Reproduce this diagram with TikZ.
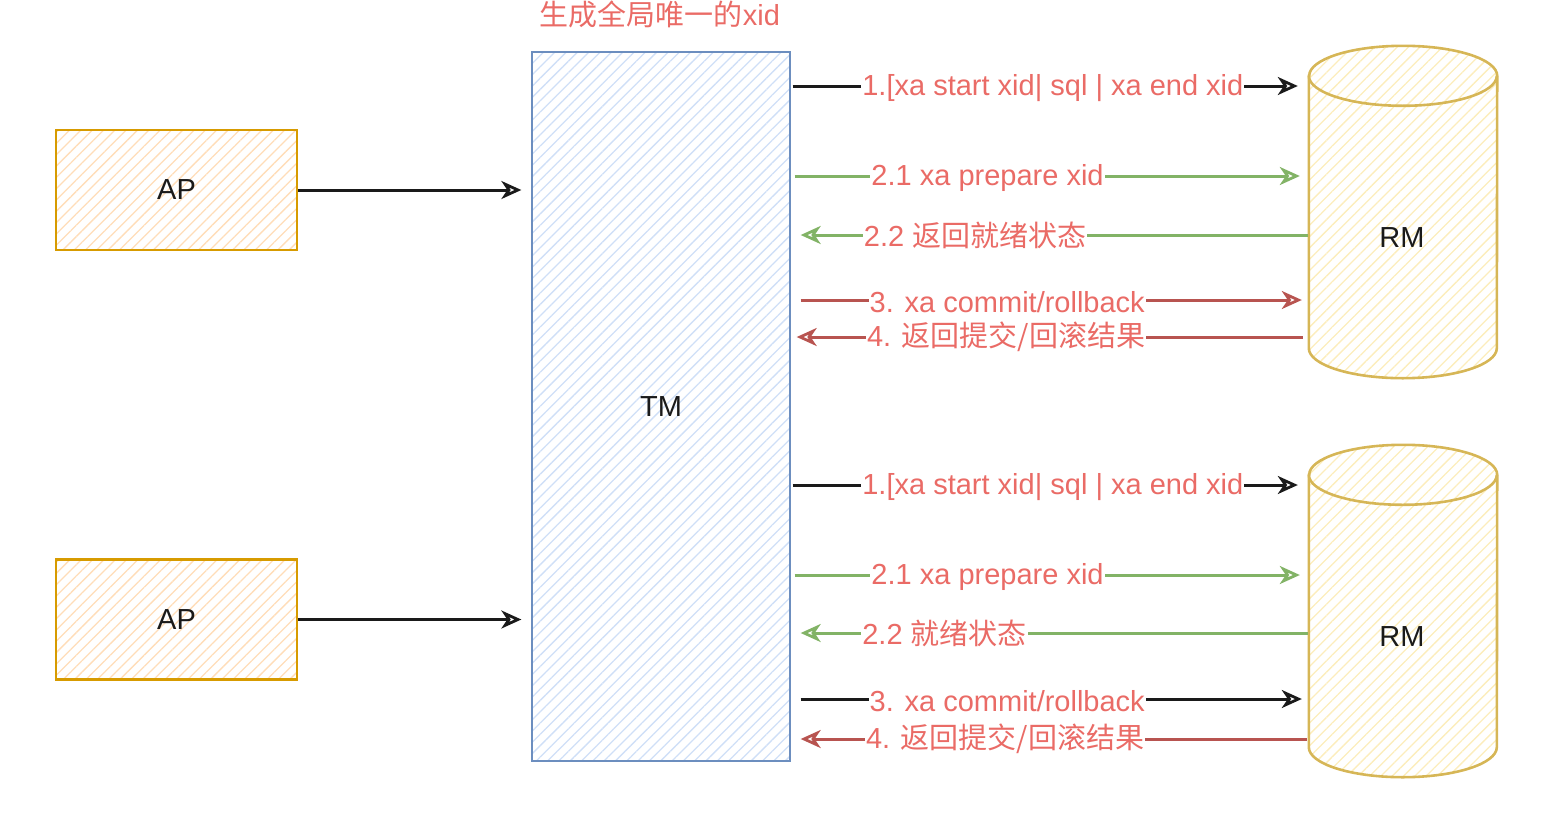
\documentclass[tikz,border=0pt]{standalone}
\usepackage{fontspec}
\setmainfont{Liberation Sans}
\newfontfamily\cjk{Noto Sans CJK SC}
\usetikzlibrary{arrows.meta,patterns.meta,calc}
\definecolor{txtred}{HTML}{EA6B66}
\definecolor{lblack}{HTML}{1A1A1A}
\definecolor{lgreen}{HTML}{82B366}
\definecolor{lred}{HTML}{B85450}
\definecolor{apstroke}{HTML}{D79B00}
\definecolor{aphatch}{HTML}{FFDDB8}
\definecolor{tmstroke}{HTML}{6C8EBF}
\definecolor{tmhatch}{HTML}{CFDFF7}
\definecolor{rmstroke}{HTML}{D6B656}
\definecolor{rmhatch}{HTML}{FCEDBC}
\tikzset{
  bigfont/.style={font=\fontsize{29}{34}\selectfont},
  apbox/.style={draw=apstroke, line width=2.6pt, minimum width=241pt, minimum height=120pt,
    pattern={Lines[angle=45,distance=8pt,line width=1.3pt]}, pattern color=aphatch, bigfont, text=lblack},
  tmbox/.style={draw=tmstroke, line width=2pt, minimum width=258pt, minimum height=709pt,
    pattern={Lines[angle=45,distance=8pt,line width=1.3pt]}, pattern color=tmhatch, bigfont, text=lblack},
  rmframe/.style={draw=none, minimum width=188pt, minimum height=332pt, inner sep=0pt},
  rmcyl/.style={draw=rmstroke, line width=2.6pt,
    pattern={Lines[angle=45,distance=8pt,line width=1.3pt]}, pattern color=rmhatch},
  lbl/.style={fill=white, inner sep=1pt, text=txtred, bigfont},
  conn/.style={line width=3pt, arrows={-Stealth[open,length=20pt,width=18pt,inset=6pt,line width=2.8pt]}},
  blk/.style={conn, draw=lblack},
  grn/.style={conn, draw=lgreen},
  rdd/.style={conn, draw=lred},
}
\begin{document}
\begin{tikzpicture}[x=1pt,y=-1pt]
\useasboundingbox (0,0) rectangle (1554,822);

% title
\node[text=txtred, bigfont] (title) at (660,14) {{\cjk 生成全局唯一的}xid};

% TM
\node[tmbox] (TM) at (661,406.5) {TM};

% AP boxes
\node[apbox] (AP1) at (176.5,190) {AP};
\node[apbox] (AP2) at (176.5,619.5) {AP};

% RM cylinders
\node[rmframe] (RM1) at (1403,212) {};
\node[rmframe] (RM2) at (1403,611) {};
\foreach \r in {RM1,RM2}{
  \path[rmcyl] (\r.north west) ++(0,30) -- ($(\r.south west)+(0,-30)$)
     arc[start angle=180,end angle=360,x radius=94pt,y radius=30pt]
     -- ($(\r.north east)+(0,30)$)
     arc[start angle=0,end angle=180,x radius=94pt,y radius=30pt] -- cycle;
  \draw[rmstroke, line width=2.6pt] ($(\r.north west)+(0,30)$)
     arc[start angle=180,end angle=360,x radius=94pt,y radius=30pt];
}
\node[bigfont, text=lblack] (RM1t) at (1402,238) {RM};
\node[bigfont, text=lblack] (RM2t) at (1402,637) {RM};

% AP -> TM
\draw[blk, shorten >=10pt] (AP1.east) -- (TM.west |- AP1.east);
\draw[blk, shorten >=10pt] (AP2.east) -- (TM.west |- AP2.east);

% top group
\draw[blk, shorten <=2pt, shorten >=11pt] (TM.east |- 0,86) -- node[lbl, pos=0.506, yshift=-2pt] {1.[xa start xid| sql | xa end xid} (RM1.west |- 0,86);
\draw[grn, shorten <=4pt, shorten >=9pt] (TM.east |- 0,176) -- node[lbl, pos=0.38, yshift=-2pt] {2.1 xa prepare xid} (RM1.west |- 0,176);
\draw[grn, shorten <=1pt, shorten >=10pt] (RM1.west |- 0,235) -- node[lbl, pos=0.644] {2.2 {\cjk 返回就绪状态}} (TM.east |- 0,235);
\draw[rdd, shorten <=10pt, shorten >=7pt] (TM.east |- 0,300) -- node[lbl, pos=0.418, yshift=-2pt] {3. xa commit/rollback} (RM1.west |- 0,300);
\draw[rdd, shorten <=6pt, shorten >=6pt] (RM1.west |- 0,337) -- node[lbl, pos=0.584] {4. {\cjk 返回提交/回滚结果}} (TM.east |- 0,337);

% bottom group
\draw[blk, shorten <=2pt, shorten >=11pt] (TM.east |- 0,485) -- node[lbl, pos=0.506, yshift=-2pt] {1.[xa start xid| sql | xa end xid} (RM2.west |- 0,485);
\draw[grn, shorten <=4pt, shorten >=9pt] (TM.east |- 0,575) -- node[lbl, pos=0.38, yshift=-2pt] {2.1 xa prepare xid} (RM2.west |- 0,575);
\draw[grn, shorten <=1pt, shorten >=10pt] (RM2.west |- 0,633) -- node[lbl, pos=0.703] {2.2 {\cjk 就绪状态}} (TM.east |- 0,633);
\draw[blk, shorten <=10pt, shorten >=7pt] (TM.east |- 0,699) -- node[lbl, pos=0.418, yshift=-2pt] {3. xa commit/rollback} (RM2.west |- 0,699);
\draw[rdd, shorten <=2pt, shorten >=10pt] (RM2.west |- 0,739) -- node[lbl, pos=0.586] {4. {\cjk 返回提交/回滚结果}} (TM.east |- 0,739);
\end{tikzpicture}
\end{document}
